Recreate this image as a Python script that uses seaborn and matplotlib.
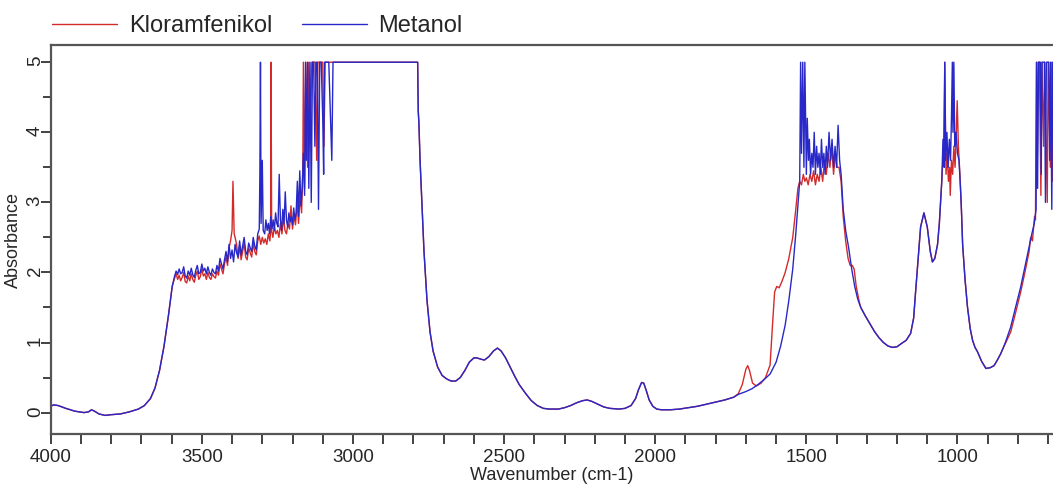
import numpy as np
import pandas as pd
import matplotlib
matplotlib.use("Agg")
import matplotlib.pyplot as plt
import seaborn as sns
from matplotlib.ticker import MultipleLocator

# FTIR spectra (wavenumber cm-1 / absorbance)

# 4000 -> 3598, both samples the same
wn_start = [4000, 3990, 3975, 3950, 3920, 3890, 3875, 3865, 3855, 3840, 3820, 3800,
            3770, 3740, 3710, 3690, 3670, 3655, 3640, 3625, 3610, 3598]
abs_start = [0.09, 0.11, 0.10, 0.06, 0.02, 0.00, 0.01, 0.04, 0.02, -0.02, -0.04, -0.03,
             -0.02, 0.01, 0.05, 0.10, 0.20, 0.35, 0.60, 0.95, 1.40, 1.80]

# noisy O-H region, Metanol
wn_b_met = [3590, 3585, 3580, 3575, 3570, 3565, 3560, 3555, 3550, 3545,
            3540, 3535, 3530, 3525, 3520, 3515, 3510, 3505, 3500, 3495,
            3490, 3485, 3480, 3475, 3470, 3465, 3460, 3455, 3450, 3445,
            3440, 3435, 3430, 3425, 3420, 3415, 3410, 3405, 3400, 3395,
            3390, 3385, 3380, 3375, 3370, 3365, 3360, 3355, 3350, 3345,
            3340, 3335, 3330, 3325, 3320, 3315, 3310, 3308, 3306, 3304,
            3300, 3297, 3292, 3288, 3284, 3280, 3276, 3272, 3268, 3264,
            3260, 3256, 3252, 3248, 3244, 3240, 3236, 3232, 3228, 3224,
            3220, 3216, 3212, 3208, 3204, 3200, 3196, 3192, 3188, 3184,
            3180, 3176, 3172, 3168, 3164, 3160, 3157, 3154, 3150, 3146,
            3142, 3138, 3134, 3130, 3126, 3122, 3118, 3114, 3110, 3105,
            3100, 3097, 3094, 3080, 3070, 3066]
abs_b_met = [1.95, 2.02, 1.97, 2.05, 1.98, 2.00, 2.08, 1.95, 1.92, 2.02,
             1.96, 2.06, 1.97, 1.93, 2.03, 2.10, 1.98, 2.00, 2.12, 2.02,
             2.06, 1.98, 2.08, 2.00, 1.96, 2.05, 2.00, 1.98, 2.10, 2.02,
             2.20, 2.12, 2.05, 2.18, 2.30, 2.15, 2.40, 2.20, 2.32, 2.15,
             2.40, 2.28, 2.22, 2.45, 2.25, 2.38, 2.50, 2.30, 2.25, 2.42,
             2.35, 2.30, 2.50, 2.38, 2.32, 2.55, 2.62, 3.40, 5.00, 2.70,
             3.60, 2.60, 2.55, 2.75, 2.60, 2.70, 2.55, 2.80, 2.62, 2.75,
             2.60, 2.85, 2.70, 2.65, 3.40, 2.75, 2.60, 2.90, 2.70, 3.15,
             2.75, 2.65, 2.85, 2.72, 2.80, 2.68, 2.92, 2.75, 2.85, 3.30,
             2.80, 3.45, 2.95, 3.20, 3.70, 3.10, 5.00, 3.60, 5.00, 3.20,
             5.00, 3.00, 5.00, 5.00, 3.80, 5.00, 5.00, 2.90, 5.00, 5.00,
             4.20, 3.40, 5.00, 5.00, 3.60, 5.00]

# noisy O-H region, Kloramfenikol
wn_b_klor = [3590, 3585, 3580, 3575, 3570, 3565, 3560, 3555, 3550, 3545,
             3540, 3535, 3530, 3525, 3520, 3515, 3510, 3505, 3500, 3495,
             3490, 3485, 3480, 3475, 3470, 3465, 3460, 3455, 3450, 3445,
             3440, 3435, 3430, 3425, 3420, 3415, 3410, 3405, 3400, 3397,
             3393, 3390, 3385, 3380, 3375, 3370, 3365, 3360, 3355, 3350,
             3345, 3340, 3335, 3330, 3325, 3320, 3315, 3310, 3305, 3300,
             3295, 3290, 3285, 3280, 3275, 3272, 3271, 3269, 3265, 3260,
             3255, 3250, 3245, 3240, 3235, 3230, 3225, 3220, 3215, 3210,
             3205, 3200, 3195, 3190, 3185, 3180, 3175, 3170, 3166, 3164,
             3160, 3156, 3150, 3146, 3140, 3136, 3125, 3120, 3116, 3100,
             3096, 3092]
abs_b_klor = [1.92, 1.98, 1.90, 1.96, 1.88, 1.93, 2.00, 1.87, 1.85, 1.95,
              1.88, 1.98, 1.90, 1.86, 1.96, 2.02, 1.90, 1.94, 2.05, 1.95,
              1.98, 1.90, 2.00, 1.93, 1.90, 1.98, 1.94, 1.92, 2.02, 1.96,
              2.12, 2.05, 1.98, 2.12, 2.22, 2.10, 2.35, 2.45, 2.60, 3.30,
              2.55, 2.50, 2.40, 2.20, 2.38, 2.18, 2.30, 2.42, 2.22, 2.18,
              2.35, 2.28, 2.22, 2.42, 2.30, 2.25, 2.45, 2.52, 2.40, 2.50,
              2.42, 2.48, 2.40, 2.55, 2.45, 2.60, 5.00, 2.60, 2.50, 2.65,
              2.55, 2.60, 2.50, 2.70, 2.55, 2.78, 2.60, 2.55, 2.70, 2.62,
              2.95, 2.62, 2.80, 2.68, 3.00, 2.70, 3.10, 2.85, 3.40, 5.00,
              3.20, 5.00, 3.50, 5.00, 4.20, 5.00, 5.00, 3.60, 5.00, 5.00,
              3.80, 5.00]

# saturated C-H band and the quiet middle, both samples the same
wn_mid = [3060, 2786, 2784, 2782, 2778, 2772, 2765, 2755, 2745, 2735, 2720, 2705,
          2690, 2675, 2660, 2645, 2630, 2615, 2600, 2590, 2575, 2565, 2550, 2535,
          2522, 2510, 2495, 2480, 2465, 2450, 2430, 2410, 2390, 2370, 2350, 2320,
          2300, 2280, 2260, 2240, 2225, 2210, 2190, 2170, 2150, 2120, 2100, 2080,
          2065, 2055, 2045, 2038, 2030, 2020, 2008, 1995, 1980, 1950, 1920, 1890,
          1860, 1830, 1800, 1770, 1740]
abs_mid = [5.00, 5.00, 4.30, 4.15, 3.60, 3.00, 2.30, 1.60, 1.15, 0.88, 0.65, 0.53,
           0.48, 0.45, 0.45, 0.50, 0.60, 0.72, 0.78, 0.78, 0.76, 0.75, 0.80, 0.88,
           0.92, 0.88, 0.78, 0.65, 0.52, 0.40, 0.28, 0.17, 0.10, 0.06, 0.05, 0.05,
           0.07, 0.10, 0.14, 0.17, 0.18, 0.16, 0.12, 0.08, 0.06, 0.05, 0.06, 0.10,
           0.20, 0.33, 0.43, 0.42, 0.32, 0.18, 0.09, 0.05, 0.04, 0.04, 0.05, 0.07,
           0.09, 0.12, 0.15, 0.18, 0.22]

# 1725 -> 1320, Metanol
wn_d_met = [1725, 1700, 1680, 1660, 1640, 1620, 1600, 1585, 1570, 1558,
            1545, 1535, 1528, 1522, 1519, 1516, 1512, 1508, 1505, 1500,
            1497, 1493, 1490, 1486, 1482, 1478, 1474, 1470, 1466, 1462,
            1458, 1454, 1450, 1446, 1442, 1438, 1434, 1430, 1425, 1420,
            1415, 1410, 1405, 1400, 1395, 1390, 1385, 1378, 1370, 1360,
            1350, 1340, 1330, 1320]
abs_d_met = [0.26, 0.30, 0.34, 0.40, 0.47, 0.55, 0.72, 0.95, 1.25, 1.60,
             2.05, 2.55, 2.95, 3.30, 5.00, 3.70, 5.00, 3.50, 5.00, 3.40,
             4.20, 3.60, 3.90, 3.40, 3.70, 3.50, 4.00, 3.40, 3.80, 3.50,
             3.70, 3.40, 3.90, 3.50, 3.70, 3.40, 3.80, 3.50, 4.00, 3.60,
             3.90, 3.50, 3.80, 3.50, 4.10, 3.60, 3.40, 2.90, 2.60, 2.35,
             2.05, 1.80, 1.62, 1.50]

# 1725 -> 1320, Kloramfenikol
wn_d_klor = [1725, 1712, 1700, 1694, 1688, 1678, 1665, 1650, 1635, 1620,
             1612, 1605, 1598, 1590, 1580, 1570, 1558, 1545, 1535, 1528,
             1522, 1516, 1510, 1505, 1500, 1494, 1488, 1482, 1476, 1470,
             1464, 1458, 1452, 1446, 1440, 1434, 1428, 1422, 1416, 1410,
             1404, 1398, 1392, 1385, 1378, 1370, 1362, 1355, 1348, 1342,
             1335, 1325, 1320]
abs_d_klor = [0.27, 0.40, 0.62, 0.67, 0.60, 0.42, 0.38, 0.42, 0.50, 0.68,
              1.25, 1.72, 1.80, 1.78, 1.88, 2.00, 2.20, 2.50, 2.90, 3.20,
              3.30, 3.25, 3.40, 3.30, 3.35, 3.25, 3.40, 3.30, 3.45, 3.25,
              3.40, 3.30, 3.50, 3.30, 3.60, 3.40, 3.70, 3.50, 3.80, 3.40,
              3.70, 3.50, 3.50, 3.30, 2.80, 2.45, 2.20, 2.10, 2.10, 2.05,
              1.80, 1.58, 1.50]

# 1305 -> 1055, both the same
wn_e = [1305, 1290, 1275, 1260, 1245, 1230, 1215, 1200, 1184, 1170, 1155, 1145,
        1139, 1130, 1122, 1111, 1100, 1090, 1083, 1075, 1066, 1060, 1055]
abs_e = [1.38, 1.27, 1.16, 1.07, 1.00, 0.95, 0.93, 0.94, 0.99, 1.03, 1.13, 1.35,
         1.70, 2.20, 2.65, 2.85, 2.65, 2.30, 2.15, 2.20, 2.40, 2.70, 3.08]

# C-O band top
wn_f_met = [1052, 1048, 1044, 1042, 1039, 1035, 1031, 1027, 1023, 1020,
            1017, 1015, 1012, 1009, 1005, 1000, 995, 990, 987]
abs_f_met = [3.30, 3.90, 3.50, 5.00, 3.60, 4.00, 3.50, 3.90, 3.60, 4.20,
             5.00, 4.00, 5.00, 3.80, 4.00, 3.70, 3.60, 3.20, 2.90]
wn_f_klor = [1052, 1046, 1042, 1038, 1034, 1030, 1026, 1024, 1020, 1016,
             1012, 1008, 1004, 1001, 997, 992, 987]
abs_f_klor = [3.30, 3.80, 5.00, 3.40, 3.70, 3.30, 3.50, 3.10, 3.60, 3.40,
              3.80, 3.50, 4.00, 4.45, 3.80, 3.40, 2.90]

# 983 -> 848, both the same
wn_g = [983, 975, 967, 958, 950, 942, 934, 920, 906, 892, 879, 868, 857, 848]
abs_g = [2.40, 1.90, 1.51, 1.20, 1.03, 0.93, 0.87, 0.73, 0.63, 0.64, 0.67, 0.75,
         0.84, 0.93]

# right edge, rising into saturation
wn_h_met = [840, 824, 808, 791, 777, 763, 754, 746, 740, 738, 735, 732, 726,
            723, 720, 712, 709, 706, 698, 695, 692, 688, 685, 680]
abs_h_met = [1.02, 1.22, 1.50, 1.79, 2.08, 2.37, 2.55, 2.70, 2.90, 5.00, 3.20,
             5.00, 5.00, 3.40, 5.00, 5.00, 3.00, 5.00, 5.00, 3.60, 5.00, 2.90,
             5.00, 5.00]
wn_h_klor = [840, 824, 808, 791, 777, 763, 758, 752, 745, 742, 739, 736, 732,
             729, 724, 721, 715, 712, 703, 700, 693, 690, 685, 682, 680]
abs_h_klor = [1.00, 1.15, 1.42, 1.72, 2.00, 2.30, 2.50, 2.45, 2.80, 2.75, 5.00,
              3.60, 5.00, 5.00, 3.10, 5.00, 3.80, 5.00, 3.00, 5.00, 3.50, 5.00,
              3.30, 5.00, 5.00]

samples = ['Kloramfenikol', 'Metanol']
colors = {'Kloramfenikol': '#d42a2a', 'Metanol': '#2828c8'}

klor_wn = wn_start + wn_b_klor + wn_mid + wn_d_klor + wn_e + wn_f_klor + wn_g + wn_h_klor
klor_abs = abs_start + abs_b_klor + abs_mid + abs_d_klor + abs_e + abs_f_klor + abs_g + abs_h_klor
met_wn = wn_start + wn_b_met + wn_mid + wn_d_met + wn_e + wn_f_met + wn_g + wn_h_met
met_abs = abs_start + abs_b_met + abs_mid + abs_d_met + abs_e + abs_f_met + abs_g + abs_h_met

df = pd.concat([
    pd.DataFrame({'wn': klor_wn, 'abs': klor_abs, 'sample': samples[0]}),
    pd.DataFrame({'wn': met_wn, 'abs': met_abs, 'sample': samples[1]}),
], ignore_index=True)

sns.set_style('ticks')
plt.rcParams['font.family'] = ['Liberation Sans', 'DejaVu Sans']

fig = plt.figure(figsize=(10.53, 4.88), dpi=100)
ax = fig.add_axes([50.7 / 1053, (488 - 434.3) / 488, 1 - 50.7 / 1053, (434.3 - 44.7) / 488])

sns.lineplot(data=df, x='wn', y='abs', hue='sample', palette=colors,
             sort=False, estimator=None, linewidth=1.0, ax=ax)

ax.set_xlim(4000, 684)
ax.set_ylim(-0.31, 5.25)
ax.xaxis.set_major_locator(MultipleLocator(500))
ax.xaxis.set_minor_locator(MultipleLocator(100))
ax.yaxis.set_major_locator(MultipleLocator(1))
ax.yaxis.set_minor_locator(MultipleLocator(0.5))

ax.tick_params(axis='x', which='both', direction='out', length=7.5, width=1.2,
               color='#222222', labelsize=13.5, pad=3)
ax.tick_params(axis='y', which='major', direction='out', length=7.5, width=1.2,
               color='#222222', labelsize=13.5, pad=-2.5, labelrotation=90)
ax.tick_params(axis='y', which='minor', direction='out', length=6, width=1.2,
               color='#222222')

for side in ['left', 'bottom', 'top']:
    ax.spines[side].set_color('#555555')
    ax.spines[side].set_linewidth(1.6)
ax.spines['right'].set_visible(False)

ax.set_xlabel('Wavenumber (cm-1)', fontsize=13, labelpad=1)
ax.set_ylabel('Absorbance', fontsize=13)
# kept just clear of the rotated tick labels
ax.yaxis.set_label_coords(-0.0288, 0.5)

handles, labels = ax.get_legend_handles_labels()
ax.get_legend().remove()
fig.legend(handles, labels, loc='center left', bbox_to_anchor=(52 / 1053, 1 - 26 / 488),
           ncol=2, frameon=False, fontsize=17, handlelength=2.75, handletextpad=0.5,
           columnspacing=1.25, borderpad=0, borderaxespad=0)

fig.savefig('out.png', dpi=100)
